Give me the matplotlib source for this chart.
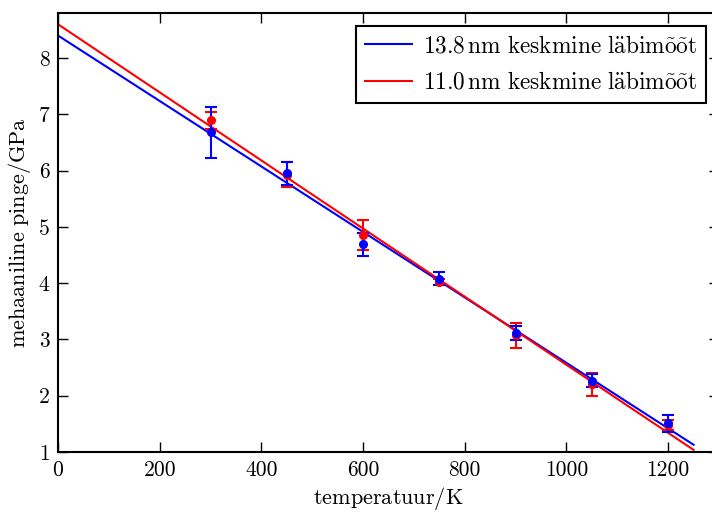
import matplotlib
matplotlib.use("Agg")
import matplotlib.pyplot as plt
import numpy as np

plt.rcParams['font.family'] = ['cmr10', 'DejaVu Serif']
plt.rcParams['mathtext.fontset'] = 'cm'
plt.rcParams['axes.unicode_minus'] = False

# data
temps = [300, 450, 600, 750, 900, 1050, 1200]
blue_vals = [6.68, 5.95, 4.69, 4.08, 3.11, 2.27, 1.51]
blue_err = [0.45, 0.20, 0.21, 0.12, 0.12, 0.11, 0.15]
red_vals = [6.89, 5.93, 4.86, 4.02, 3.07, 2.20, 1.48]
red_err = [0.15, 0.23, 0.27, 0.06, 0.23, 0.21, 0.09]
# linear fits (intercept, slope)
blue_fit = (8.40, -0.005817)
red_fit = (8.60, -0.006050)
fit_range = [0, 1250]
labels = [r'$13.8\,\mathrm{nm\ keskmine\ l\"abim\~o\~ot}$',
          r'$11.0\,\mathrm{nm\ keskmine\ l\"abim\~o\~ot}$']

fig = plt.figure(figsize=(7.12, 5.12), dpi=100)
# right spine lies just outside the image (cropped original)
ax = fig.add_axes([58/712, 60/512, (719-58)/712, (452-13)/512])

xf = np.array(fit_range, dtype=float)
ax.plot(xf, blue_fit[0] + blue_fit[1] * xf, color='blue', lw=1.5, label=labels[0])
ax.plot(xf, red_fit[0] + red_fit[1] * xf, color='red', lw=1.5, label=labels[1])
ax.errorbar(temps, red_vals, yerr=red_err, fmt='o', color='red', ms=5.5,
            capsize=4.3, elinewidth=1.5, capthick=1.5, mec='red')
ax.errorbar(temps, blue_vals, yerr=blue_err, fmt='o', color='blue', ms=5.5,
            capsize=4.3, elinewidth=1.5, capthick=1.5, mec='blue')

ax.set_xlim(0, 1300)
ax.set_ylim(1, 8.8)
ax.set_xticks([0, 200, 400, 600, 800, 1000, 1200])
ax.set_yticks([1, 2, 3, 4, 5, 6, 7, 8])
ax.tick_params(direction='in', top=True, right=True, length=7, width=1,
               labelsize=15.5, pad=6)
for s in ax.spines.values():
    s.set_linewidth(1.5)

ax.set_xlabel(r'$\mathrm{temperatuur/K}$', fontsize=16)
ax.set_ylabel(r'$\mathrm{mehaaniline\ pinge/GPa}$', fontsize=16)

leg = ax.legend(loc='upper right', fontsize=16.8, fancybox=False, framealpha=1,
                edgecolor='black', handlelength=2.0, handletextpad=0.45,
                labelspacing=0.62, borderaxespad=0.55)
leg.get_frame().set_linewidth(1.5)

fig.savefig('out.png', dpi=100)
